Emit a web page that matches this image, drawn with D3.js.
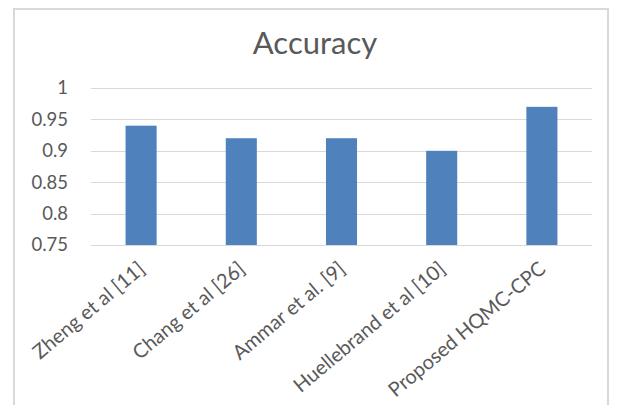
<!DOCTYPE html>
<html>
<head>
<meta charset="utf-8">
<script src="https://cdn.jsdelivr.net/npm/d3@7/dist/d3.min.js"></script>
<style>
  html, body { margin: 0; padding: 0; background: #fff; }
  svg { display: block; }
  text { font-family: Lato, "Open Sans", sans-serif; fill: #595959; }
</style>
</head>
<body>
<div id="chart"></div>
<script>
// Accuracy of each method
const categories = ["Zheng et al [11]", "Chang et al [26]", "Ammar et al. [9]", "Huellebrand et al [10]", "Proposed HQMC-CPC"];
const accuracy = [0.94, 0.92, 0.92, 0.90, 0.97];
const yTicks = [0.75, 0.8, 0.85, 0.9, 0.95, 1];
const yTickLabels = ["0.75", "0.8", "0.85", "0.9", "0.95", "1"];
const title = "Accuracy";

const W = 621, H = 405;
const margin = { left: 91, right: 29, top: 88, bottom: 160 };

const svg = d3.select("#chart").append("svg")
  .attr("width", W).attr("height", H);

// chart frame
svg.append("rect")
  .attr("x", 14).attr("y", 9)
  .attr("width", 594).attr("height", 410)
  .attr("fill", "#fff")
  .attr("stroke", "#d9d9d9").attr("stroke-width", 2);

const x = d3.scaleBand()
  .domain(categories)
  .range([margin.left, W - margin.right])
  .paddingInner(0.69).paddingOuter(0.345);

const y = d3.scaleLinear()
  .domain([0.75, 1])
  .range([H - margin.bottom, margin.top]);

// gridlines
svg.append("g").selectAll("line")
  .data(yTicks)
  .join("line")
  .attr("x1", margin.left).attr("x2", W - margin.right)
  .attr("y1", d => Math.round(y(d)) + 0.5).attr("y2", d => Math.round(y(d)) + 0.5)
  .attr("stroke", "#d9d9d9").attr("stroke-width", 1);

// y axis labels
const yAxis = d3.axisLeft(y)
  .tickValues(yTicks)
  .tickFormat((d, i) => yTickLabels[i])
  .tickSize(0).tickPadding(23);
const yg = svg.append("g")
  .attr("transform", `translate(${margin.left},0)`)
  .call(yAxis);
yg.select(".domain").remove();
yg.selectAll("text")
  .attr("font-size", 18.5)
  .style("font-family", "Lato, 'Open Sans', sans-serif")
  .attr("fill", "#595959");

// bars
svg.append("g").selectAll("rect")
  .data(categories.map((c, i) => ({ c, v: accuracy[i] })))
  .join("rect")
  .attr("x", d => x(d.c))
  .attr("width", x.bandwidth())
  .attr("y", d => y(d.v))
  .attr("height", d => y(0.75) - y(d.v))
  .attr("fill", "#4f81bd");

// category labels, rotated
const xAxis = d3.axisBottom(x).tickSize(0).tickPadding(0);
const xg = svg.append("g")
  .attr("transform", `translate(0,${H - margin.bottom})`)
  .call(xAxis);
xg.select(".domain").remove();
xg.selectAll("text")
  .attr("font-size", 20)
  .style("font-family", "Lato, 'Open Sans', sans-serif")
  .attr("fill", "#595959")
  .attr("text-anchor", "end")
  .attr("dy", "0")
  .attr("transform", "translate(5,26) rotate(-40)");

// title
svg.append("text")
  .attr("x", 315).attr("y", 54)
  .attr("text-anchor", "middle")
  .attr("font-size", 31)
  .text(title);
</script>
</body>
</html>
